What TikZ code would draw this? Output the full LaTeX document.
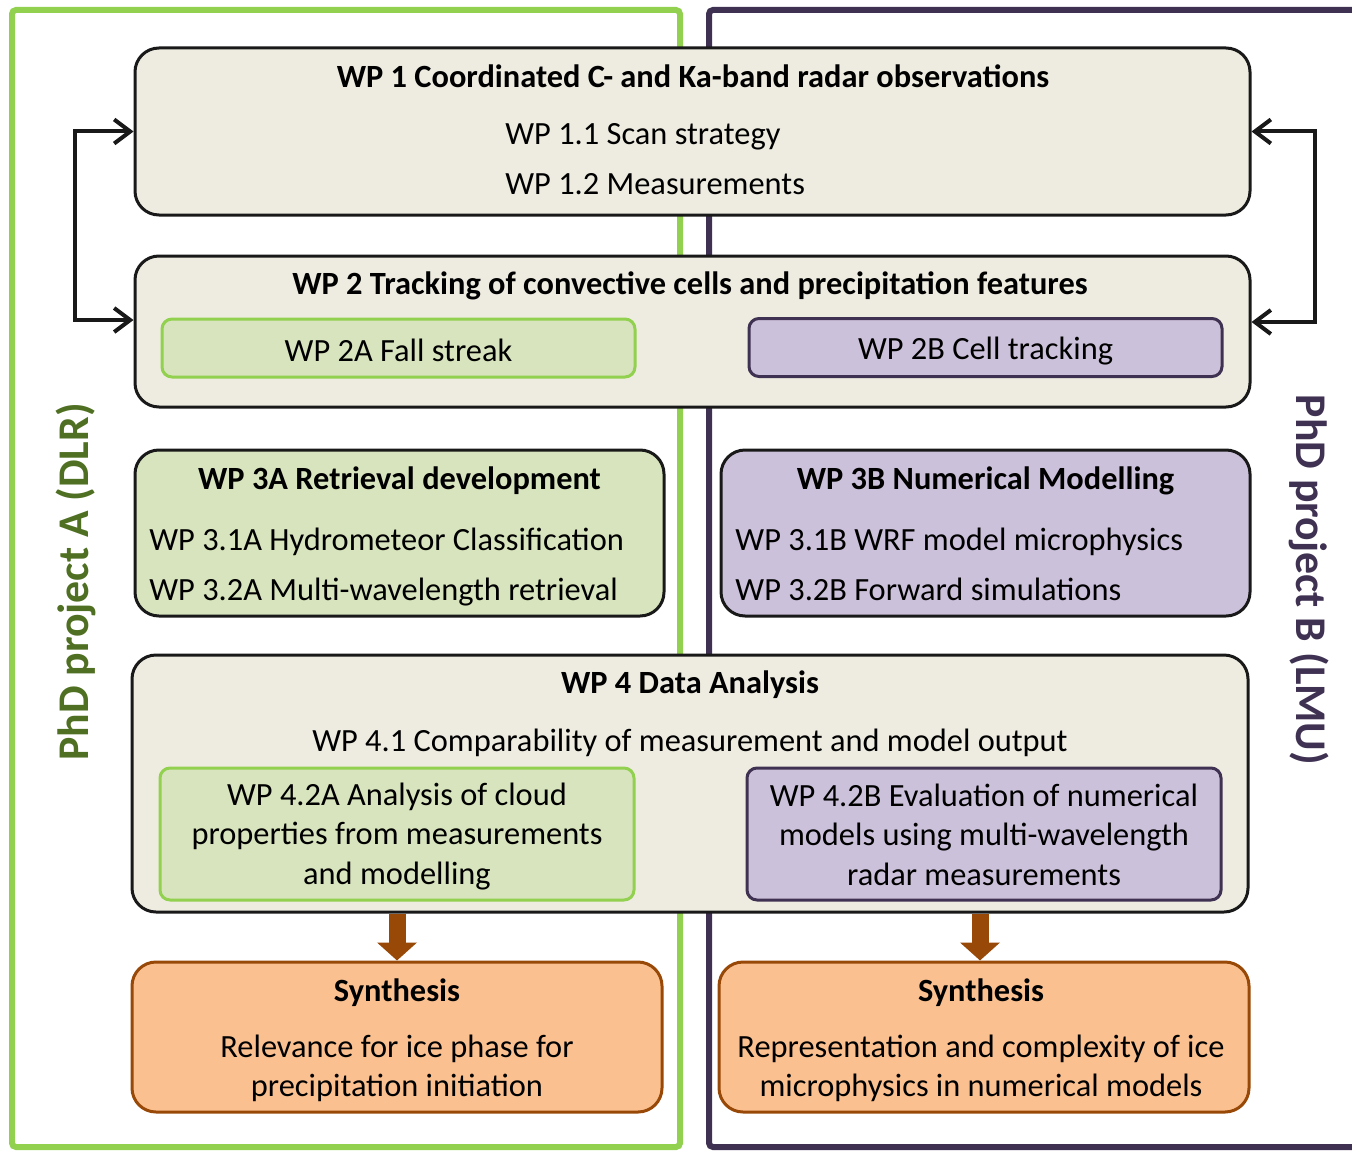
\documentclass[tikz,border=0pt]{standalone}
\usepackage{fontspec}
\setmainfont{Carlito}
\usetikzlibrary{arrows.meta}

\definecolor{wpgrey}{HTML}{EEECE1}
\definecolor{dlrgreen}{HTML}{92D050}
\definecolor{dlrfill}{HTML}{D7E4BD}
\definecolor{dlrtext}{HTML}{4F6F22}
\definecolor{lmupurple}{HTML}{3F3151}
\definecolor{lmufill}{HTML}{CCC1DA}
\definecolor{synfill}{HTML}{FAC090}
\definecolor{synbrown}{HTML}{984807}

\tikzset{
  wpbox/.style={draw=black!90, line width=1.5pt, rounded corners=12pt, fill=wpgrey},
  subA/.style={draw=dlrgreen, line width=1.5pt, rounded corners=5pt, fill=dlrfill},
  subB/.style={draw=lmupurple, line width=1.5pt, rounded corners=5pt, fill=lmufill},
  synbox/.style={draw=synbrown, line width=1.5pt, rounded corners=12pt, fill=synfill},
  wptitle/.style={font=\fontsize{16.2}{19}\selectfont\bfseries, anchor=base, inner sep=0pt},
  wptext/.style={font=\fontsize{16.2}{19}\selectfont, anchor=base, inner sep=0pt},
  wpblock/.style={font=\fontsize{16.2}{19.75}\selectfont, align=center, inner sep=0pt},
  feedback/.style={line width=2pt, draw=black!90, {Straight Barb[length=8pt,width=12pt]}-{Straight Barb[length=8pt,width=12pt]}},
  flow/.style={draw=synbrown, line width=8.5pt, -{Triangle[width=19.5pt,length=9pt]}},
  phd/.style={font=\fontsize{21.9}{25}\selectfont\bfseries, anchor=base, inner sep=0pt}
}

\begin{document}
\begin{tikzpicture}[x=0.5pt, y=-0.5pt]
    \useasboundingbox (0,0) rectangle (1352,1150);
    % Project frames
    \draw[dlrgreen, line width=3pt, rounded corners=2pt] (12,10) rectangle (680,1147);
    \draw[lmupurple, line width=3pt, rounded corners=2pt] (1365,10) -- (709,10) -- (709,1147) -- (1365,1147);
    \node[phd, text=dlrtext, rotate=90] (phdA) at (88,582) {PhD project A (DLR)};
    \node[phd, text=lmupurple, rotate=-90] (phdB) at (1296,580) {PhD project B (LMU)};

    % WP 1
    \node[wpbox, minimum width=557.5pt, minimum height=83.5pt] (wp1) at (692.5,131.5) {};
    \node[wptitle] (wp1t) at (693,88) {WP 1 Coordinated C- and Ka-band radar observations};
    \node[wptext, anchor=base west] (wp11) at (505,145) {WP 1.1 Scan strategy};
    \node[wptext, anchor=base west] (wp12) at (505,195) {WP 1.2 Measurements};

    % WP 2
    \node[wpbox, minimum width=557.5pt, minimum height=75.5pt] (wp2) at (692.5,331.5) {};
    \node[wptitle] (wp2t) at (690,294) {WP 2 Tracking of convective cells and precipitation features};
    \node[subA, minimum width=236.5pt, minimum height=29pt] (wp2a) at (398.5,348) {};
    \node[wptext] (wp2at) at (398.5,361) {WP 2A Fall streak};
    \node[subB, minimum width=236.5pt, minimum height=29pt] (wp2b) at (985.5,347.5) {};
    \node[wptext] (wp2bt) at (985.5,359) {WP 2B Cell tracking};

    % feedback between WP 1 and WP 2
    \draw[feedback] ([yshift=5.75pt]wp2.west) -- ++(-59,0) |- (wp1.west);
    \draw[feedback] ([yshift=4.75pt]wp2.east) -- ++(63,0) |- (wp1.east);

    % WP 3
    \node[wpbox, fill=dlrfill, minimum width=264.5pt, minimum height=83pt] (wp3a) at (399.5,533) {};
    \node[wptitle] (wp3at) at (399.5,489) {WP 3A Retrieval development};
    \node[wptext, anchor=base west] (wp31a) at (149,550) {WP 3.1A Hydrometeor Classification};
    \node[wptext, anchor=base west] (wp32a) at (149,600) {WP 3.2A Multi-wavelength retrieval};
    \node[wpbox, fill=lmufill, minimum width=264.5pt, minimum height=83pt] (wp3b) at (985.5,533) {};
    \node[wptitle] (wp3bt) at (985.5,489) {WP 3B Numerical Modelling};
    \node[wptext, anchor=base west] (wp31b) at (735,550) {WP 3.1B WRF model microphysics};
    \node[wptext, anchor=base west] (wp32b) at (735,600) {WP 3.2B Forward simulations};

    % WP 4
    \node[wpbox, minimum width=558pt, minimum height=128.5pt] (wp4) at (690,783.5) {};
    \node[wptitle] (wp4t) at (690,693) {WP 4 Data Analysis};
    \node[wptext] (wp41) at (690,751) {WP 4.1 Comparability of measurement and model output};
    \node[subA, minimum width=237pt, minimum height=66pt] (wp42a) at (397,834) {};
    \node[wpblock] (wp42at) at (397,836.5) {WP 4.2A Analysis of cloud\\properties from measurements\\and modelling};
    \node[subB, minimum width=237pt, minimum height=66pt] (wp42b) at (984,834) {};
    \node[wpblock] (wp42bt) at (984,834.5) {WP 4.2B Evaluation of numerical\\models using multi-wavelength\\radar measurements};

    % Synthesis
    \node[synbox, minimum width=265pt, minimum height=75pt] (synA) at (397,1037) {};
    \node[wptitle] (synAt) at (397,1001) {Synthesis};
    \node[wpblock] (synAx) at (397,1068.5) {Relevance for ice phase for\\precipitation initiation};
    \node[synbox, minimum width=265pt, minimum height=75pt] (synB) at (984,1037) {};
    \node[wptitle] (synBt) at (981,1001) {Synthesis};
    \node[wpblock] (synBx) at (981,1068.5) {Representation and complexity of ice\\microphysics in numerical models};

    \draw[flow] (wp4.south -| synA.north) -- (synA.north);
    \draw[flow] ([xshift=-2pt]synB.north |- wp4.south) -- ([xshift=-2pt]synB.north);
\end{tikzpicture}
\end{document}
